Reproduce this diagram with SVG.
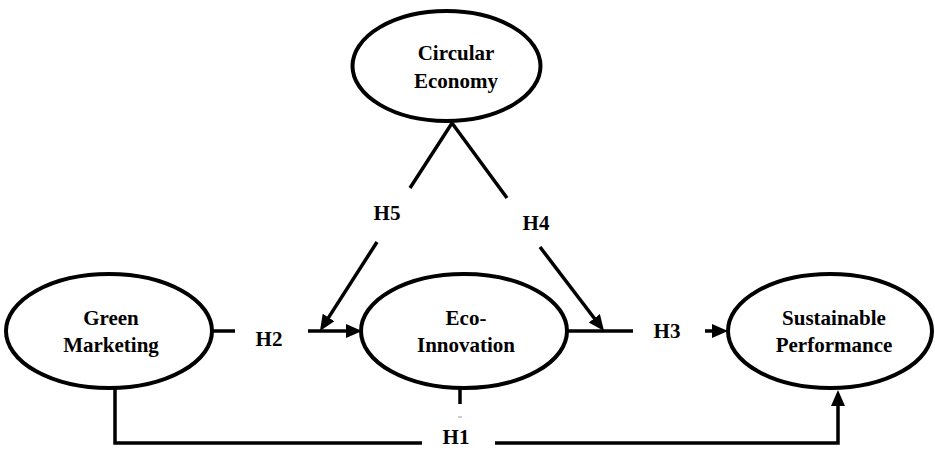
<svg xmlns="http://www.w3.org/2000/svg" width="935" height="449" viewBox="0 0 935 449">
<style>
.node ellipse{fill:#fff;stroke:#000;stroke-width:4}
text{font-family:"Liberation Serif","Times New Roman",serif;font-weight:bold;font-size:21px;fill:#000;text-anchor:middle}
.conn path{fill:none;stroke:#000;stroke-width:3.5}
</style>
<defs>
<marker id="arr" markerUnits="userSpaceOnUse" markerWidth="17" markerHeight="15" refX="10" refY="7" orient="auto">
<path d="M0,0 L16,7 L0,14 Z" fill="#000"/>
</marker>
</defs>
<g id="connectors" class="conn">
<path d="M410,188 L452,123 L507,198" stroke-linejoin="miter"/>
<path d="M377,242 L323.2,325.9" marker-end="url(#arr)"/>
<path d="M540,247 L600.4,326.2" marker-end="url(#arr)"/>
<path d="M212,331 H235"/>
<path d="M308,331 H356" marker-end="url(#arr)"/>
<path d="M567,331 H633"/>
<path d="M705,331 H722" marker-end="url(#arr)"/>
<path d="M115,388 V443 H422"/>
<path d="M495,443 H838 V396" marker-end="url(#arr)"/>
<path d="M460,388 V404"/>
<path d="M458,417 H462" style="stroke:#999;stroke-width:1"/>
</g>
<g id="circular-economy" class="node">
<ellipse cx="446.5" cy="66" rx="94" ry="55"/>
<text x="456" y="60">Circular</text>
<text x="456" y="88">Economy</text>
</g>
<g id="green-marketing" class="node">
<ellipse cx="109" cy="331" rx="103" ry="57"/>
<text x="111" y="325">Green</text>
<text x="111" y="352">Marketing</text>
</g>
<g id="eco-innovation" class="node">
<ellipse cx="464" cy="331" rx="103" ry="57"/>
<text x="466" y="325">Eco-</text>
<text x="466" y="352">Innovation</text>
</g>
<g id="sustainable-performance" class="node">
<ellipse cx="830" cy="331" rx="102" ry="57"/>
<text x="834" y="325">Sustainable</text>
<text x="834" y="352">Performance</text>
</g>
<g id="labels">
<text x="387" y="220">H5</text>
<text x="536" y="230">H4</text>
<text x="269" y="346">H2</text>
<text x="667" y="338">H3</text>
<text x="456" y="444">H1</text>
</g>
</svg>
